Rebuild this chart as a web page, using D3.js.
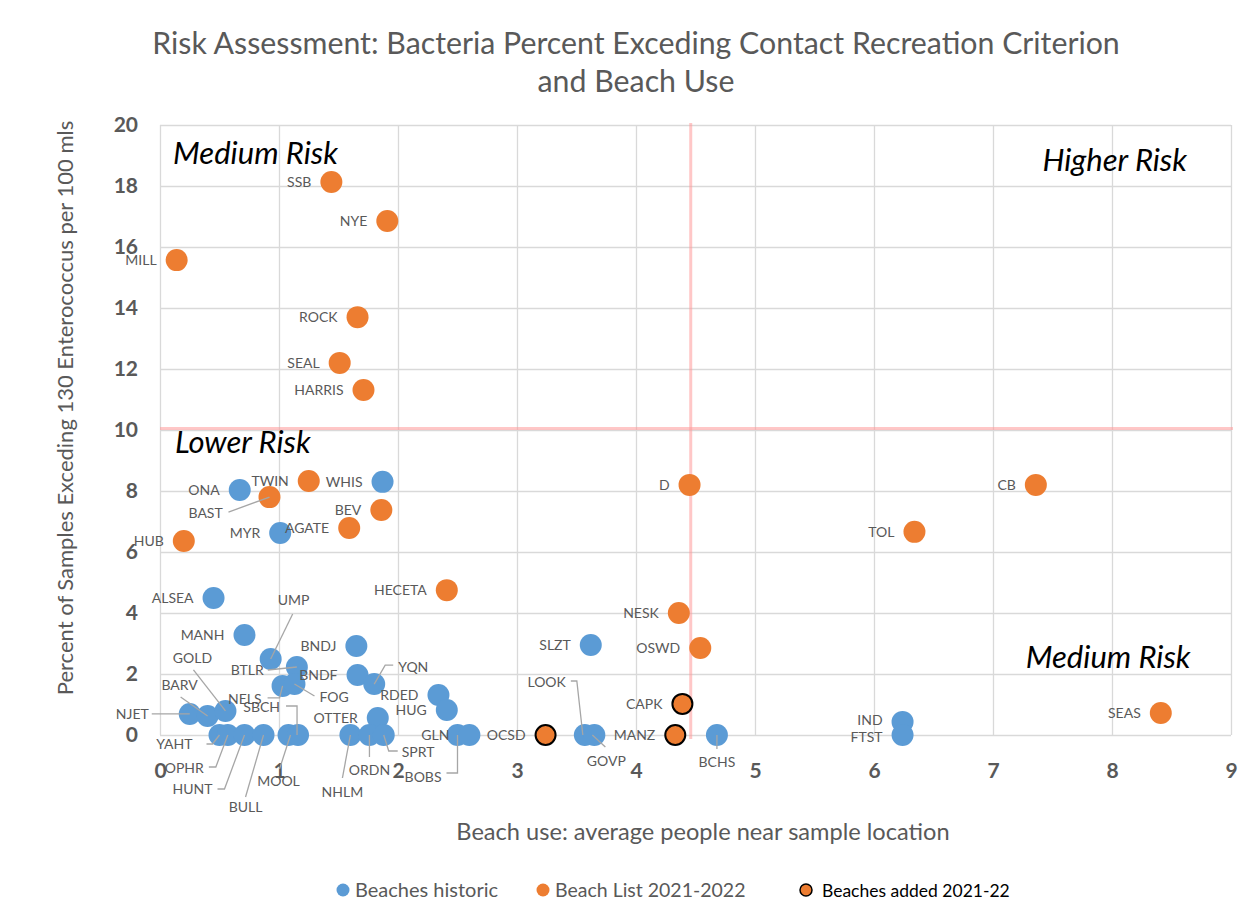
<html>
<head>
<style>
  body { margin: 0; background: #fff; }
  text { font-family: Lato, "Open Sans", sans-serif; }
</style>
<script src="https://d3js.org/d3.v7.min.js"></script>
</head>
<body>
<script>
// beaches historic (blue)
const historicNames = ["ONA", "WHIS", "MYR", "ALSEA", "MANH", "UMP", "BNDJ", "BTLR", "BNDF", "NELS", "FOG", "YQN",
  "RDED", "HUG", "OTTER", "NJET", "BARV", "GOLD", "YAHT", "OPHR", "HUNT", "BULL", "MOOL", "SBCH",
  "NHLM", "ORDN", "SPRT", "BOBS", "GLN", "SLZT", "LOOK", "GOVP", "BCHS", "IND", "FTST"];
const historicUse = [0.67, 1.87, 1.01, 0.45, 0.71, 0.93, 1.65, 1.15, 1.66, 1.03, 1.13, 1.80,
  2.34, 2.41, 1.83, 0.25, 0.40, 0.55, 0.50, 0.57, 0.71, 0.87, 1.08, 1.16,
  1.60, 1.76, 1.88, 2.50, 2.60, 3.62, 3.57, 3.65, 4.68, 6.24, 6.24];
const historicPct = [8.03, 8.30, 6.62, 4.49, 3.28, 2.49, 2.92, 2.23, 1.97, 1.61, 1.67, 1.67,
  1.31, 0.82, 0.56, 0.69, 0.62, 0.79, 0, 0, 0, 0, 0, 0,
  0, 0, 0, 0, 0, 2.95, 0, 0, 0, 0.43, 0];

// beach list 2021-2022 (orange)
const listNames = ["SSB", "NYE", "MILL", "ROCK", "SEAL", "HARRIS", "TWIN", "BAST", "BEV", "AGATE", "HUB", "HECETA",
  "D", "CB", "TOL", "NESK", "OSWD", "SEAS"];
const listUse = [1.44, 1.91, 0.14, 1.66, 1.51, 1.71, 1.25, 0.92, 1.86, 1.59, 0.20, 2.41,
  4.45, 7.36, 6.34, 4.36, 4.54, 8.41];
const listPct = [18.13, 16.85, 15.57, 13.70, 12.20, 11.31, 8.33, 7.80, 7.38, 6.79, 6.36, 4.75,
  8.20, 8.20, 6.66, 4.00, 2.85, 0.72];

// beaches added 2021-22 (orange, black outline)
const addedNames = ["CAPK", "MANZ", "OCSD"];
const addedUse = [4.39, 4.33, 3.24];
const addedPct = [1.02, 0, 0];

const xTicks = [0, 1, 2, 3, 4, 5, 6, 7, 8, 9];
const yTicks = [0, 2, 4, 6, 8, 10, 12, 14, 16, 18, 20];
const useThreshold = 4.46;
const pctThreshold = 10.05;

// callout labels: text offset from the dot and leader points (pixels, relative to dot)
const callouts = {
  BAST:  { dx: -81, dy: 16, anchor: "start", path: [[-41, 15], [0, 0]] },
  UMP:   { dx: 7, dy: -59, anchor: "start", path: [[22, -45], [0, 0]] },
  BTLR:  { dx: -33, dy: 3, anchor: "end", path: [[-29, 3], [0, 0]] },
  FOG:   { dx: 25, dy: 13, anchor: "start", path: [[20, 12], [0, 0]] },
  NELS:  { dx: -21, dy: 13, anchor: "end", path: [[-15, 12], [-3, 12], [0, 0]] },
  SBCH:  { dx: -18, dy: -28, anchor: "end", path: [[-12, -29], [-1, -29], [-1, 0]] },
  YQN:   { dx: 24, dy: -17, anchor: "start", path: [[19, -19], [11, -19], [0, 0]] },
  BOBS:  { dx: -16, dy: 42, anchor: "end", path: [[-11, 38], [0, 38], [0, 0]] },
  NHLM:  { dx: -8, dy: 57, anchor: "middle", path: [[-8, 43], [0, 0]] },
  ORDN:  { dx: 0, dy: 35, anchor: "middle", path: [[0, 22], [0, 0]] },
  SPRT:  { dx: 18, dy: 17, anchor: "start", path: [[14, 16], [5, 16], [0, 0]] },
  LOOK:  { dx: -19, dy: -53, anchor: "end", path: [[-14, -54], [-8, -54], [-2, 0]] },
  GOVP:  { dx: 12, dy: 26, anchor: "middle", path: [[11, 12], [-2, 0]] },
  BCHS:  { dx: 0, dy: 27, anchor: "middle", path: [[0, 14], [0, 0]] },
  NJET:  { dx: -41, dy: 0, anchor: "end", path: [[-38, 0], [0, 0]] },
  BARV:  { dx: -28, dy: -31, anchor: "middle", path: [[-27, -19], [0, 0]] },
  GOLD:  { dx: -33, dy: -53, anchor: "middle", path: [[-32, -41], [0, 0]] },
  YAHT:  { dx: -27, dy: 9, anchor: "end", path: [[-13, 9], [-7, 9], [0, 0]] },
  OPHR:  { dx: -24, dy: 33, anchor: "end", path: [[-19, 32], [-12, 32], [0, 0]] },
  HUNT:  { dx: -32, dy: 54, anchor: "end", path: [[-27, 54], [-20, 54], [0, 0]] },
  BULL:  { dx: -18, dy: 72, anchor: "middle", path: [[-18, 62], [0, 0]] },
  MOOL:  { dx: -10, dy: 46, anchor: "middle", path: [[-9, 34], [2, 0]] },
  IND:   { dx: -20, dy: -2, anchor: "end", path: [] },
  FTST:  { dx: -20, dy: 2, anchor: "end", path: [] }
};

const W = 1256, H = 913;
const plotL = 160, plotR = 1231, plotT = 125, plotB = 735;
const blue = "#5b9bd5", orange = "#ed7d31", grey = "#595959";

const svg = d3.select("body").append("svg")
  .attr("width", W)
  .attr("height", H);

svg.append("rect").attr("width", W).attr("height", H).attr("fill", "#fff");

const x = d3.scaleLinear().domain([0, 9]).range([plotL, plotR]);
const y = d3.scaleLinear().domain([0, 20]).range([plotB, plotT]);

// gridlines
svg.append("g")
  .attr("transform", "translate(0," + plotB + ")")
  .call(d3.axisBottom(x).tickValues(xTicks).tickSize(-(plotB - plotT)).tickFormat(""))
  .call(g => g.select(".domain").remove())
  .call(g => g.selectAll("line").attr("stroke", "#d9d9d9").attr("stroke-width", 1.3));
svg.append("g")
  .attr("transform", "translate(" + plotL + ",0)")
  .call(d3.axisLeft(y).tickValues(yTicks).tickSize(-(plotR - plotL)).tickFormat(""))
  .call(g => g.select(".domain").remove())
  .call(g => g.selectAll("line").attr("stroke", "#d9d9d9").attr("stroke-width", 1.3));

// tick labels
svg.append("g")
  .attr("transform", "translate(0," + plotB + ")")
  .call(d3.axisBottom(x).tickValues(xTicks).tickSize(0).tickPadding(28))
  .call(g => g.select(".domain").remove())
  .call(g => g.selectAll("text").attr("fill", grey).attr("font-size", 21).attr("font-weight", "bold")
    .attr("font-family", "Lato"));
svg.append("g")
  .attr("transform", "translate(" + plotL + ",0)")
  .call(d3.axisLeft(y).tickValues(yTicks).tickSize(0).tickPadding(22))
  .call(g => g.select(".domain").remove())
  .call(g => g.selectAll("text").attr("fill", grey).attr("font-size", 21).attr("font-weight", "bold")
    .attr("font-family", "Lato"));

// risk thresholds
svg.append("line")
  .attr("x1", x(useThreshold)).attr("x2", x(useThreshold))
  .attr("y1", plotT - 2).attr("y2", plotB + 4)
  .attr("stroke", "#ff9999").attr("stroke-opacity", 0.55).attr("stroke-width", 3);
svg.append("line")
  .attr("x1", plotL).attr("x2", plotR + 2)
  .attr("y1", y(pctThreshold)).attr("y2", y(pctThreshold))
  .attr("stroke", "#ff9999").attr("stroke-opacity", 0.55).attr("stroke-width", 3);

// titles
svg.append("text")
  .attr("x", 636).attr("y", 54)
  .attr("text-anchor", "middle")
  .attr("font-size", 30.3)
  .attr("fill", grey)
  .text("Risk Assessment: Bacteria Percent Exceding Contact Recreation Criterion");
svg.append("text")
  .attr("x", 636).attr("y", 92)
  .attr("text-anchor", "middle")
  .attr("font-size", 30.3)
  .attr("fill", grey)
  .text("and Beach Use");
svg.append("text")
  .attr("x", 703).attr("y", 840)
  .attr("text-anchor", "middle")
  .attr("font-size", 23.6)
  .attr("fill", grey)
  .text("Beach use: average people near sample location");
svg.append("text")
  .attr("transform", "translate(73,408) rotate(-90)")
  .attr("text-anchor", "middle")
  .attr("font-size", 22)
  .attr("fill", grey)
  .text("Percent of Samples Exceding 130 Enterococcus per 100 mls");

// quadrant names
const quad = [
  { t: "Medium Risk", x: 0.11, y: 18.72, a: "start" },
  { t: "Higher Risk", x: 8.63, y: 18.49, a: "end" },
  { t: "Lower Risk", x: 0.125, y: 9.25, a: "start" },
  { t: "Medium Risk", x: 8.66, y: 2.2, a: "end" }
];
svg.selectAll(".quad").data(quad).enter().append("text")
  .attr("class", "quad")
  .attr("x", d => x(d.x)).attr("y", d => y(d.y))
  .attr("text-anchor", d => d.a)
  .attr("font-size", 31)
  .attr("font-style", "italic")
  .attr("fill", "#000")
  .text(d => d.t);

// points
const rows = (names, use, pct, kind) => names.map((n, i) => ({ name: n, use: use[i], pct: pct[i], kind }));
const all = rows(historicNames, historicUse, historicPct, "historic")
  .concat(rows(listNames, listUse, listPct, "list"))
  .concat(rows(addedNames, addedUse, addedPct, "added"));

svg.selectAll(".dot").data(all).enter().append("circle")
  .attr("class", "dot")
  .attr("cx", d => x(d.use))
  .attr("cy", d => y(d.pct))
  .attr("r", d => d.kind === "added" ? 10 : 11)
  .attr("fill", d => d.kind === "historic" ? blue : orange)
  .attr("stroke", d => d.kind === "added" ? "#000" : "none")
  .attr("stroke-width", 2);

// leader lines
const line = d3.line();
svg.selectAll(".leader").data(all.filter(d => callouts[d.name] && callouts[d.name].path.length)).enter().append("path")
  .attr("class", "leader")
  .attr("d", d => line(callouts[d.name].path.map(p => [x(d.use) + p[0], y(d.pct) + p[1]])))
  .attr("fill", "none")
  .attr("stroke", "#a6a6a6")
  .attr("stroke-width", 1.3);

// data labels
svg.selectAll(".lbl").data(all).enter().append("text")
  .attr("class", "lbl")
  .attr("x", d => x(d.use) + (callouts[d.name] ? callouts[d.name].dx : -20))
  .attr("y", d => y(d.pct) + (callouts[d.name] ? callouts[d.name].dy : 0) + 5)
  .attr("text-anchor", d => callouts[d.name] ? callouts[d.name].anchor : "end")
  .attr("font-size", 14)
  .attr("fill", grey)
  .text(d => d.name);

// legend
const legend = [
  { t: "Beaches historic", c: blue, s: "none", x: 343, col: grey, fs: 20 },
  { t: "Beach List 2021-2022", c: orange, s: "none", x: 543, col: grey, fs: 19.5 },
  { t: "Beaches added 2021-22", c: orange, s: "#000", x: 806, col: "#000", fs: 17.5 }
];
const lg = svg.selectAll(".lg").data(legend).enter().append("g").attr("class", "lg");
lg.append("circle")
  .attr("cx", d => d.x).attr("cy", 890)
  .attr("r", d => d.s === "none" ? 6.5 : 6)
  .attr("fill", d => d.c)
  .attr("stroke", d => d.s).attr("stroke-width", 1.5);
lg.append("text")
  .attr("x", d => d.x + (d.s === "none" ? 12 : 16)).attr("y", 897)
  .attr("font-size", d => d.fs)
  .attr("fill", d => d.col)
  .text(d => d.t);
</script>
</body>
</html>
